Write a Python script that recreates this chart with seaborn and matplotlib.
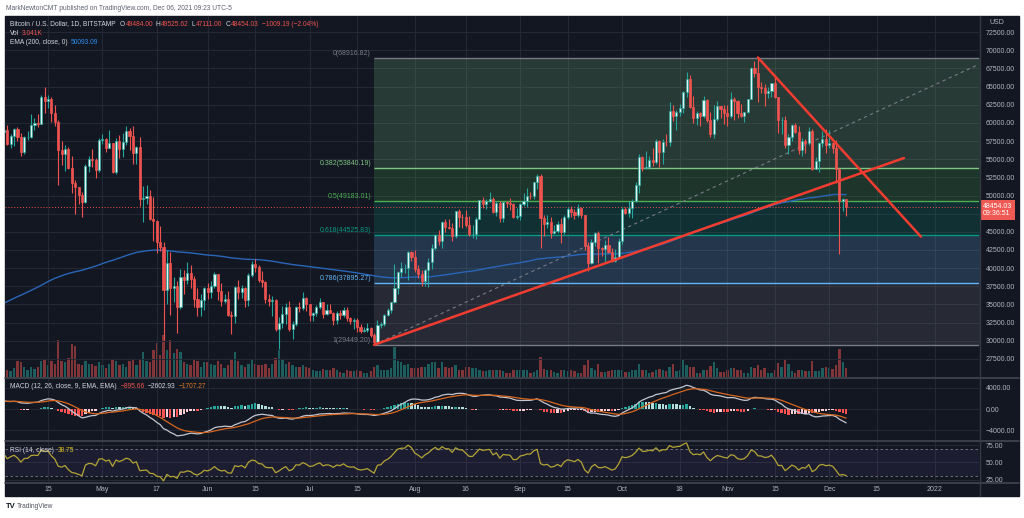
import numpy as np
import pandas as pd
import matplotlib
matplotlib.use("Agg")
import matplotlib.pyplot as plt
import seaborn as sns
from matplotlib.lines import Line2D
from matplotlib.patches import Rectangle

W, H = 1024, 518
BG = '#131722'
GRID = '#252935'
TXT = '#b2b5be'
LBL = '#d1d4dc'
UP = '#26a69a'
DOWN = '#ef5350'
FONT = ['Liberation Sans Narrow', 'Liberation Sans', 'DejaVu Sans']

# BTC/USD daily, Bitstamp, 1 Apr - 6 Dec 2021 (thousand USD)
close = [
    58.73, 58.98, 57.06, 58.20, 59.13, 57.99, 56.03, 58.03, 58.10, 59.77,
    59.97, 59.84, 63.55, 62.95, 63.23, 61.40, 60.05, 56.25, 55.70, 56.45,
    53.80, 51.70, 51.15, 50.10, 49.05, 54.05, 55.05, 54.85, 53.55, 57.70,
    57.80, 56.58, 57.17, 53.25, 57.45, 56.40, 57.35, 58.85, 58.25, 55.85,
    56.70, 49.55, 49.70, 49.90, 46.75, 46.45, 43.55, 42.90, 37.00, 40.70,
    37.30, 37.55, 34.70, 38.75, 38.40, 39.30, 38.50, 35.70, 34.60, 35.65, 37.30,
    36.70, 37.58, 39.20, 36.85, 35.52, 35.80, 33.58, 33.40, 37.38, 36.68,
    37.33, 35.55, 39.02, 40.52, 40.14, 38.35, 38.05, 35.82, 35.48, 35.60,
    31.60, 32.50, 33.70, 34.65, 31.60, 32.25, 34.70, 34.50, 35.90, 35.00,
    33.55, 33.82, 34.70, 35.30, 33.72, 34.22, 33.88, 32.88, 33.82, 33.52,
    34.25, 33.10, 32.72, 32.82, 31.85, 31.40, 31.53, 31.78, 30.84, 29.80,
    32.14, 32.30, 33.60, 34.27, 35.40, 37.30, 39.45, 40.00, 40.03, 42.20, 41.50,
    39.85, 39.15, 38.20, 39.72, 40.87, 42.83, 44.60, 43.80, 46.30, 45.60,
    45.58, 44.42, 47.82, 47.10, 47.02, 45.92, 44.69, 44.70, 46.76, 49.32,
    48.87, 49.29, 49.55, 47.72, 48.98, 46.87, 49.07, 48.90, 48.80, 47.02, 47.15,
    48.85, 49.28, 49.95, 49.92, 51.80, 52.70, 46.85, 46.08, 46.40, 44.85,
    45.15, 46.05, 44.95, 47.10, 48.15, 47.75, 47.30, 48.30, 47.25, 43.00,
    40.70, 43.60, 44.90, 42.80, 42.70, 43.20, 42.20, 41.00, 41.50, 43.80,
    48.15, 47.65, 48.22, 49.20, 51.50, 55.35, 53.80, 53.95, 54.95, 54.65,
    57.50, 56.00, 57.40, 57.35, 61.65, 60.90, 61.55, 62.00, 64.30, 66.00,
    62.20, 60.70, 61.30, 60.90, 63.10, 60.35, 58.45, 60.60, 62.30, 61.90, 61.30,
    61.00, 63.25, 62.95, 61.40, 61.00, 61.50, 63.30, 67.50, 66.90, 64.90,
    64.80, 64.10, 64.40, 65.50, 63.60, 60.35, 60.40, 56.90, 58.10, 59.70,
    58.70, 56.30, 57.50, 57.20, 58.90, 53.70, 54.70, 57.20, 57.80, 56.90,
    57.20, 56.50, 53.60, 49.20, 49.484, 48.45403,
]
high = [
    59.47, 60.00, 59.77, 58.47, 59.26, 59.45, 58.66, 58.14, 58.89, 61.25,
    60.65, 61.20, 63.80, 64.90, 63.80, 63.60, 62.50, 60.40, 57.50, 57.00,
    56.70, 55.40, 52.10, 51.20, 50.50, 54.30, 55.45, 56.40, 55.20, 57.90,
    58.45, 57.95, 58.95, 57.20, 57.95, 58.35, 58.65, 59.50, 59.25, 59.50,
    56.85, 58.00, 51.30, 51.50, 50.70, 49.80, 46.60, 45.80, 43.55, 42.45,
    42.20, 38.80, 38.20, 39.90, 39.80, 40.80, 40.40, 38.90, 37.30, 36.40, 37.45,
    37.90, 38.20, 39.45, 39.25, 37.90, 36.45, 36.80, 34.05, 37.50, 38.40,
    37.65, 37.40, 39.30, 41.00, 41.30, 40.50, 39.55, 38.20, 36.45, 36.10,
    35.70, 33.30, 34.85, 35.25, 35.45, 32.70, 34.75, 35.30, 36.65, 36.00,
    35.05, 33.95, 34.95, 35.95, 35.30, 35.10, 35.05, 33.95, 34.05, 34.25,
    34.60, 34.65, 33.30, 33.10, 33.20, 32.25, 31.95, 32.40, 31.90, 31.05,
    32.80, 32.60, 33.65, 34.50, 35.40, 40.55, 39.55, 40.90, 40.60, 42.30, 42.40,
    42.55, 40.45, 39.75, 39.95, 41.35, 43.35, 44.70, 45.30, 46.45, 46.70,
    46.75, 46.20, 47.90, 48.10, 47.40, 48.00, 47.15, 46.00, 47.00, 49.35,
    49.75, 49.50, 50.50, 49.85, 49.20, 49.30, 49.15, 49.30, 49.60, 48.90, 48.25,
    48.95, 50.40, 51.05, 50.55, 51.90, 52.90, 52.95, 47.35, 47.35, 47.05,
    45.95, 46.45, 46.85, 47.25, 48.45, 48.50, 48.15, 48.80, 48.35, 47.35,
    43.60, 44.00, 44.95, 45.15, 42.95, 43.90, 44.35, 42.75, 42.60, 44.10,
    48.45, 48.35, 49.30, 49.50, 51.90, 55.75, 55.40, 56.10, 55.50, 56.50,
    57.80, 57.70, 57.75, 58.50, 62.90, 62.40, 61.75, 62.60, 64.45, 67.00,
    66.65, 63.70, 61.70, 61.50, 63.70, 63.30, 61.50, 62.50, 62.95, 62.30, 62.45,
    62.40, 64.25, 63.50, 63.10, 62.55, 61.55, 63.30, 67.75, 68.50, 68.92,
    65.60, 65.40, 64.90, 65.50, 66.30, 63.60, 60.80, 60.90, 58.40, 59.85,
    60.00, 59.50, 57.90, 57.75, 59.40, 59.20, 55.25, 57.40, 58.85, 59.20,
    59.00, 57.40, 57.60, 53.85, 49.70, 49.52562,
]
low = [
    57.92, 58.45, 56.96, 56.50, 56.80, 57.44, 55.45, 55.73, 57.70, 57.90,
    59.08, 59.40, 59.80, 61.30, 62.00, 60.10, 59.60, 51.50, 54.20, 53.40,
    53.60, 50.40, 47.50, 48.80, 47.00, 48.90, 53.20, 53.90, 52.40, 53.20,
    57.05, 56.05, 56.50, 53.10, 52.90, 55.20, 55.30, 56.90, 56.25, 54.40,
    54.40, 48.60, 46.30, 48.80, 46.60, 43.80, 42.10, 42.30, 30.10, 35.00,
    33.50, 35.30, 31.10, 34.40, 36.40, 37.80, 37.20, 34.70, 33.40, 33.40, 34.20,
    35.70, 35.95, 37.20, 35.60, 34.80, 35.25, 33.40, 31.00, 32.40, 35.80,
    35.90, 34.65, 34.80, 38.75, 39.50, 38.10, 37.40, 35.15, 34.80, 33.40,
    31.30, 28.80, 31.70, 32.30, 31.30, 30.20, 32.00, 33.90, 34.30, 34.10,
    32.75, 32.70, 33.35, 34.40, 33.15, 33.55, 33.80, 32.15, 32.30, 33.05,
    33.30, 32.70, 32.25, 31.60, 31.20, 31.05, 31.20, 31.15, 30.50, 29.45,
    29.50, 31.70, 32.00, 33.40, 33.85, 35.25, 36.40, 38.80, 39.30, 38.35, 41.05,
    39.45, 38.70, 37.60, 37.55, 37.35, 39.90, 42.50, 43.15, 42.80, 44.95,
    45.35, 43.80, 44.20, 45.70, 45.55, 45.70, 44.40, 44.20, 43.95, 46.70,
    48.30, 48.10, 49.05, 47.60, 47.15, 46.35, 46.40, 48.40, 48.00, 46.90, 46.70,
    46.60, 48.60, 48.40, 49.50, 49.45, 50.95, 42.80, 44.40, 45.50, 44.20,
    44.75, 44.80, 43.40, 44.70, 46.75, 47.05, 46.80, 47.05, 46.85, 42.55,
    39.60, 40.55, 43.10, 40.75, 41.70, 40.80, 42.10, 40.90, 40.80, 41.40,
    43.30, 47.40, 47.10, 46.95, 49.05, 50.40, 53.40, 53.60, 53.70, 54.10,
    54.40, 53.90, 54.30, 56.85, 56.85, 60.20, 58.95, 60.90, 61.35, 63.50,
    62.00, 60.00, 59.70, 59.50, 60.70, 60.10, 58.05, 57.95, 60.20, 60.70, 59.90,
    59.50, 60.70, 60.40, 60.70, 60.75, 60.10, 61.40, 63.25, 66.30, 62.90,
    64.10, 62.30, 63.40, 63.60, 63.40, 58.60, 58.40, 56.50, 55.65, 57.45,
    58.60, 55.65, 55.40, 55.90, 57.00, 53.55, 53.65, 53.30, 56.70, 55.85,
    56.50, 55.80, 51.70, 42.00, 47.80, 47.111,
]
# volume, thousand BTC
volume = [
    3.0, 2.5, 2.2, 2.0, 3.0, 5.5, 5.0, 3.5, 2.5, 3.5, 2.8, 3.5, 5.5, 6.0, 4.0,
    5.5, 4.5, 12.3, 5.5, 5.0, 6.5, 11.0, 10.5, 4.5, 4.0, 5.5, 4.5, 4.5, 3.8, 5.0,
    4.0, 3.0, 4.5, 6.0, 5.5, 4.0, 4.5, 3.5, 5.5, 6.0, 4.0, 6.0, 8.3, 5.5, 5.0,
    9.0, 11.5, 7.5, 14.0, 9.0, 12.3, 8.0, 9.5, 8.5, 5.0, 4.5, 4.0, 6.0, 5.5, 3.5, 5.0,
    5.0, 4.5, 4.0, 5.5, 4.5, 3.0, 4.0, 6.0, 8.3, 5.5, 4.0, 3.5, 4.5, 5.7, 4.5,
    4.0, 4.0, 4.5, 3.0, 4.5, 6.5, 9.0, 6.0, 4.5, 5.0, 4.0, 3.5, 3.5, 4.0, 3.5,
    3.0, 2.5, 2.0, 2.0, 2.8, 2.5, 2.2, 3.0, 2.5, 1.8, 1.5, 2.2, 2.0, 2.0, 2.2,
    2.0, 1.5, 1.5, 2.0, 3.5, 4.0, 2.5, 2.5, 2.3, 3.0, 10.0, 5.5, 5.0, 4.0, 4.5, 3.0,
    3.0, 3.0, 3.5, 3.5, 4.5, 5.0, 5.0, 3.0, 5.0, 3.5, 3.0, 3.5, 4.0, 2.5, 2.5,
    3.5, 3.5, 3.0, 3.0, 2.5, 2.0, 2.0, 2.5, 2.5, 2.2, 2.5, 2.0, 1.5, 1.5, 2.5, 2.5,
    2.5, 2.5, 2.2, 1.5, 1.8, 2.3, 6.7, 2.8, 2.5, 2.3, 1.8, 1.5, 2.3, 2.2, 2.0,
    2.2, 2.0, 1.5, 1.3, 4.0, 5.7, 3.0, 2.5, 4.3, 1.8, 1.8, 2.0, 2.3, 2.5, 2.5,
    2.5, 1.8, 1.8, 2.3, 2.3, 4.3, 2.5, 2.3, 1.5, 1.8, 2.5, 2.8, 2.2, 2.0, 3.5,
    4.3, 2.0, 2.5, 5.7, 4.0, 3.5, 3.5, 1.5, 1.5, 2.2, 2.5, 3.7, 5.0, 3.0, 1.8, 1.8,
    2.5, 3.0, 3.0, 2.2, 2.3, 1.5, 1.5, 3.5, 3.0, 4.0, 2.5, 3.0, 1.5, 1.5, 2.5,
    4.7, 3.5, 6.0, 4.5, 2.0, 1.5, 2.5, 2.5, 2.0, 2.0, 5.3, 2.0, 2.0, 3.0, 3.5,
    3.0, 2.8, 4.0, 9.3, 5.0, 3.0,
]
# closes 1 Feb - 31 Mar 2021, only used to warm up the indicators
warmup_close = [
    33.50, 35.50, 37.60, 36.90, 38.30, 39.20, 38.90, 46.40, 46.50, 44.80,
    47.90, 47.40, 47.20, 48.60, 47.90, 49.10, 52.10, 51.60, 55.90, 55.90,
    57.40, 54.10, 48.90, 49.70, 47.10, 46.30, 46.20, 45.20,
    49.60, 48.40, 50.40, 48.40, 48.80, 48.90, 51.00, 52.30, 54.80, 56.00,
    57.80, 57.30, 61.20, 59.00, 55.60, 56.90, 58.90, 57.60, 58.00, 58.10,
    57.40, 54.10, 54.30, 52.30, 51.30, 55.10, 55.80, 55.80, 57.60, 58.80, 58.80,
]
ema200_seed = 34700.0   # EMA(200) value on 31 Mar 2021

date_ticks = ['2021-04-15', '2021-05-01', '2021-05-17', '2021-06-01', '2021-06-15',
              '2021-07-01', '2021-07-15', '2021-08-01', '2021-08-16', '2021-09-01',
              '2021-09-15', '2021-10-01', '2021-10-18', '2021-11-01', '2021-11-15',
              '2021-12-01', '2021-12-15', '2022-01-01']
date_labels = ['15', 'May', '17', 'Jun', '15', 'Jul', '15', 'Aug', '16', 'Sep',
               '15', 'Oct', '18', 'Nov', '15', 'Dec', '15', '2022']
price_ticks = list(range(27500, 72501, 2500))

fib_names = ['0', '0.382', '0.5', '0.618', '0.786', '1']
fib_prices = [68916.82, 53840.19, 49183.01, 44525.83, 37895.27, 29449.20]
fib_colors = ['#787b86', '#81c784', '#4caf50', '#089981', '#64b5f6', '#787b86']
fib_start = '2021-07-20'

support_dates = ['2021-07-20', '2021-12-23']
support_prices = [29449.20, 55160.0]
resist_dates = ['2021-11-10', '2021-12-28']
resist_prices = [69000.0, 44330.0]
fib_trend_dates = ['2021-07-20', '2022-01-18']
fib_trend_prices = [29449.20, 68916.82]

start = pd.Timestamp('2021-04-01')


def day(d):
    return (pd.Timestamp(d) - start).days


n = len(close)
assert len(high) == n and len(low) == n and len(volume) == n
x = np.arange(n)
c = np.array(close) * 1000
hi = np.array(high) * 1000
lo = np.array(low) * 1000
o = np.concatenate([[warmup_close[-1]], close[:-1]]) * 1000
vol = np.array(volume)
up = c >= o

# indicators
allc = pd.Series(np.concatenate([warmup_close, close]) * 1000)
k = len(warmup_close)
macd_all = allc.ewm(span=12, adjust=False).mean() - allc.ewm(span=26, adjust=False).mean()
sig_all = macd_all.ewm(span=9, adjust=False).mean()
hist_all = (macd_all - sig_all).values
delta = allc.diff()
gain = delta.clip(lower=0).ewm(alpha=1 / 14, adjust=False).mean()
loss = (-delta.clip(upper=0)).ewm(alpha=1 / 14, adjust=False).mean()
rsi = (100 - 100 / (1 + gain / loss)).values[k:]
macd = macd_all.values[k:]
signal = sig_all.values[k:]
hist = hist_all[k:]
hprev = hist_all[k - 1:-1]
hcolors = []
for h, hp in zip(hist, hprev):
    if h >= 0:
        hcolors.append(UP if h > hp else '#b2dfdb')
    else:
        hcolors.append('#ff5252' if h < hp else '#ffcdd2')

ema200 = []
e = ema200_seed
for v in c:
    e = e + 2 / 201 * (v - e)
    ema200.append(e)
ema200 = np.array(ema200)

sns.set_theme(style='dark')
plt.rcParams['font.family'] = FONT
plt.rcParams['axes.unicode_minus'] = True

fig = plt.figure(figsize=(W / 100, H / 100), dpi=100, facecolor='white')


def px_axes(l, t, r, b):
    return fig.add_axes([l / W, 1 - b / H, (r - l) / W, (b - t) / H])


fig.add_artist(Rectangle((5 / W, 1 - 496 / H), 1014 / W, 480 / H,
                         transform=fig.transFigure, color=BG, zorder=-5))

XL, XR = 1.33, 288.1
P_LO, P_HI = 25014, 74711
tick_pos = [day(d) for d in date_ticks]
TICK_SIZE = 5.0


def style(a):
    a.set_xlim(XL, XR)
    a.patch.set_visible(False)
    for s in a.spines.values():
        s.set_visible(False)
    a.yaxis.tick_right()
    a.set_xticks(tick_pos)
    a.grid(True, color=GRID, lw=0.7, zorder=0)
    a.set_axisbelow(True)
    a.tick_params(axis='y', length=0, pad=5, labelsize=TICK_SIZE, labelcolor=TXT)
    a.tick_params(axis='x', length=0, labelbottom=False)


# volume underneath the price pane
vax = px_axes(5, 16, 979, 377)
vax.bar(x, vol, width=0.7, color=[UP if u else DOWN for u in up], alpha=0.5, lw=0)
vax.set_xlim(XL, XR)
vax.set_ylim(0, (377 - 16) / 3)
vax.set_axis_off()

ax = px_axes(5, 16, 979, 377)
style(ax)
ax.set_ylim(P_LO, P_HI)
ax.set_yticks(price_ticks)
# the last-price tag covers the 47500 label, as on the original
ax.set_yticklabels(['' if abs(t - c[-1]) < 1500 else f'{t:.2f}' for t in price_ticks])

# fib retracement
fs = day(fib_start)
for i in range(1, len(fib_prices)):
    ax.fill_between([fs, XR + 5], fib_prices[i - 1], fib_prices[i],
                    color=fib_colors[i], alpha=0.2, lw=0, zorder=1)
for name, p, col in zip(fib_names, fib_prices, fib_colors):
    ax.hlines(p, fs, XR + 5, color=col, lw=1, zorder=1.5)
    ax.text(fs - 0.9, p + 150, f'{name}({p:.2f})', color=col, fontsize=5.0,
            ha='right', va='bottom')

sns.lineplot(x=x, y=ema200, ax=ax, color='#2a66b8', lw=1.0, zorder=2, estimator=None)
ax.plot([day(d) for d in fib_trend_dates], fib_trend_prices, color='#787b86',
        lw=0.8, ls=(0, (3, 3)), zorder=2)

# candles
wick_col = [UP if u else DOWN for u in up]
ax.vlines(x, lo, hi, colors=wick_col, lw=0.8, zorder=3)
ax.bar(x, np.maximum(np.abs(c - o), 70), bottom=np.minimum(o, c), width=0.62,
       color=['#e4f3f1' if u else DOWN for u in up],
       edgecolor=wick_col, linewidth=0.5, zorder=4)

ax.axhline(c[-1], color=DOWN, lw=0.7, ls=(0, (1, 2)), zorder=2.5)
ax.plot([day(d) for d in support_dates], support_prices, color='#f23c30', lw=1.8,
        zorder=5, solid_capstyle='round')
ax.plot([day(d) for d in resist_dates], resist_prices, color='#f23c30', lw=1.8,
        zorder=5, solid_capstyle='round')

ax.annotate(f'{c[-1]:.2f}\n09:36:51', xy=(1.0, c[-1]),
            xycoords=('axes fraction', 'data'), xytext=(4, 4),
            textcoords='offset pixels', ha='left', va='top', color='white',
            fontsize=TICK_SIZE, linespacing=1.15, annotation_clip=False,
            bbox=dict(boxstyle='square,pad=0.35', fc='#f05a55', ec='none'))

# MACD
axm = px_axes(5, 378, 979, 440)
style(axm)
axm.bar(x, hist, width=0.7, color=hcolors, lw=0, zorder=2)
sns.lineplot(x=x, y=macd, ax=axm, color='#c3c6cf', lw=0.9, zorder=3, estimator=None)
sns.lineplot(x=x, y=signal, ax=axm, color='#d8661e', lw=0.9, zorder=3, estimator=None)
axm.set_ylim(-5820, 5820)
axm.set_yticks([4000, 0, -4000])
axm.set_yticklabels(['4000.00', '0.00', '\u22124000.00'])

# RSI
axr = px_axes(5, 441, 979, 482)
style(axr)
axr.axhspan(30, 70, color='#7e57c2', alpha=0.1, lw=0)
axr.axhline(70, color='#787b86', lw=0.6, ls=(0, (3, 3)))
axr.axhline(30, color='#787b86', lw=0.6, ls=(0, (3, 3)))
sns.lineplot(x=x, y=rsi, ax=axr, color='#b3a435', lw=0.9, zorder=3, estimator=None)
axr.set_ylim(21.4, 80.9)
axr.set_yticks([75, 50, 25])
axr.set_yticklabels(['75.00', '50.00', '25.00'])
axr.set_xticks(tick_pos)
axr.set_xticklabels(date_labels)
axr.tick_params(axis='x', labelbottom=True, pad=3, labelsize=TICK_SIZE, labelcolor=TXT)
for a in (ax, axm, axr):
    a.set_xlabel('')
    a.set_ylabel('')

# pane separators
for yy in (377.5, 440.5, 482.5):
    fig.add_artist(Line2D([5 / W, 1019 / W], [1 - yy / H] * 2, color='#434651', lw=1.2))
fig.add_artist(Line2D([979.5 / W] * 2, [1 - 16 / H, 1 - 496 / H], color='#363a45', lw=1))

renderer = fig.canvas.get_renderer()


def row(x0, y, parts, size=4.8):
    xx = x0
    for s, col, gap in parts:
        t = fig.text(xx / W, 1 - y / H, s, color=col, fontsize=size, ha='left', va='center')
        xx += t.get_window_extent(renderer).width + gap


row(10, 24, [('Bitcoin / U.S. Dollar, 1D, BITSTAMP', LBL, 4), ('O', LBL, 0.5),
             ('49484.00', DOWN, 3), ('H', LBL, 0.5), ('49525.62', DOWN, 3),
             ('L', LBL, 0.5), ('47111.00', DOWN, 3), ('C', LBL, 0.5),
             ('48454.03', DOWN, 3), ('\u22121009.19 (\u22122.04%)', DOWN, 0)])
row(10, 33.5, [('Vol', LBL, 2.5), ('3.041K', DOWN, 0)])
row(10, 43, [('EMA (200, close, 0)', LBL, 3), ('50093.09', '#2a8df0', 0)])
row(10, 386.5, [('MACD (12, 26, close, 9, EMA, EMA)', LBL, 4), ('\u2212895.66', DOWN, 3),
                ('\u22122602.93', LBL, 3), ('\u22121707.27', '#e07a22', 0)])
row(10, 450, [('RSI (14, close)', LBL, 4), ('30.75', '#e0c51c', 0)])

fig.text(997 / W, 1 - 23 / H, 'USD', color=TXT, fontsize=TICK_SIZE, ha='center', va='center')
fig.text(6 / W, 1 - 8 / H, 'MarkNewtonCMT published on TradingView.com, Dec 06, 2021 09:23 UTC-5',
         color='#5d6270', fontsize=4.8, ha='left', va='center')
fig.text(6 / W, 1 - 506 / H, 'TV', color='#131722', fontsize=5.5, weight='bold',
         ha='left', va='center')
fig.text(17 / W, 1 - 506 / H, 'TradingView', color='#50535e', fontsize=4.8,
         ha='left', va='center')

fig.savefig('out.png', dpi=100, facecolor='white')
